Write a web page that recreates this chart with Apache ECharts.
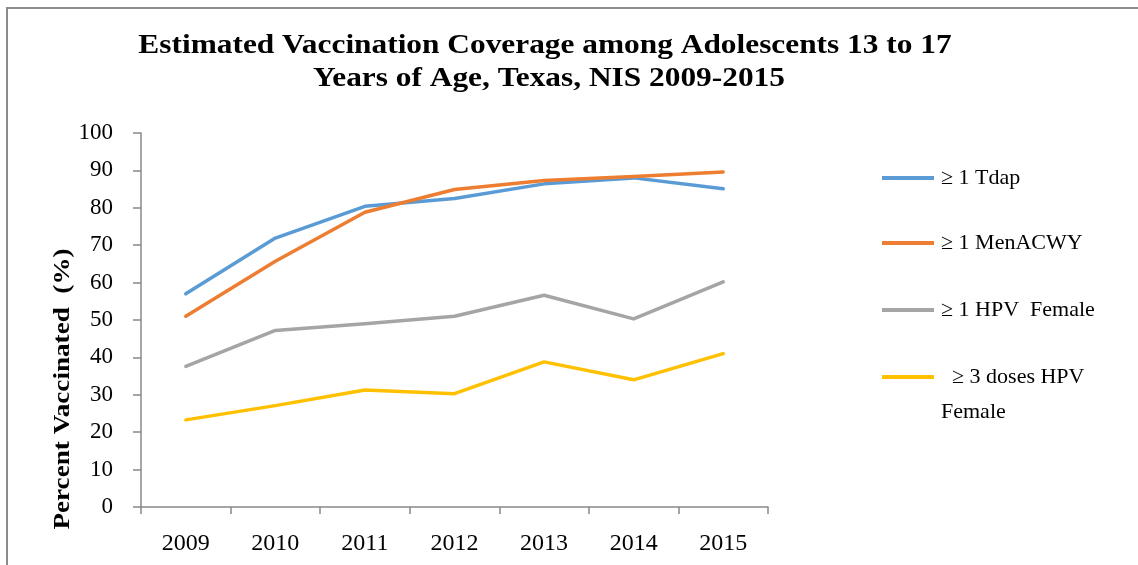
<!DOCTYPE html>
<html>
<head>
<meta charset="utf-8">
<script src="https://cdn.jsdelivr.net/npm/echarts@6/dist/echarts.min.js"></script>
<style>
html,body{margin:0;padding:0;background:#fff;}
#chart{width:1138px;height:565px;}
</style>
</head>
<body>
<div id="chart"></div>
<script>
var years = ['2009','2010','2011','2012','2013','2014','2015'];
var tdap = [57.0, 71.9, 80.4, 82.5, 86.4, 88.0, 85.1];
var menacwy = [51.0, 65.7, 78.8, 84.9, 87.3, 88.4, 89.6];
var hpv1 = [37.6, 47.2, 49.0, 51.0, 56.6, 50.3, 60.2];
var hpv3 = [23.3, 27.1, 31.3, 30.3, 38.8, 34.0, 41.0];
var seriesNames = ['\u2265 1 Tdap', '\u2265 1 MenACWY', '\u2265 1 HPV  Female', '\u2265 3 doses HPV Female'];
var titleLines = ['Estimated Vaccination Coverage among Adolescents 13 to 17', 'Years of Age, Texas, NIS 2009-2015'];
var yAxisTitle = 'Percent Vaccinated  (%)';
var colors = ['#5B9BD5', '#ED7D31', '#A5A5A5', '#FFC000'];

var serif = '"Liberation Serif", "Times New Roman", serif';
var chart = echarts.init(document.getElementById('chart'));
var values = [tdap, menacwy, hpv1, hpv3];
var legendCenters = [178, 243, 310, 377];
var LH = 35;

var option = {
  backgroundColor: '#fff',
  animation: false,
  legend: seriesNames.map(function(n, i){
    return {
      data: [n],
      left: 882,
      top: legendCenters[i] - (i === 3 ? LH * 1.5 : LH / 2),
      orient: 'vertical',
      itemWidth: 52,
      itemHeight: 20,
      itemGap: 0,
      padding: 0,
      icon: 'path://M0,0 L52,0 L52,4 L0,4 Z',
      formatter: function(name){
        if (i === 3) return ' \n  \u2265 3 doses HPV\nFemale';
        return name;
      },
      textStyle: {fontFamily: serif, fontSize: 22, color: '#000', lineHeight: LH, padding: [0,0,0,2]}
    };
  }),
  grid: {left: 141, right: 370, top: 133, bottom: 58, containLabel: false},
  xAxis: {
    type: 'category',
    data: years,
    boundaryGap: true,
    axisLine: {lineStyle: {color: '#888', width: 1.5}},
    axisTick: {show: true, length: 7, lineStyle: {color: '#888', width: 1.5}},
    axisLabel: {fontFamily: serif, fontSize: 24, color: '#000', margin: 25}
  },
  yAxis: {
    type: 'value',
    min: 0, max: 100, interval: 10,
    axisLine: {show: true, lineStyle: {color: '#888', width: 1.5}},
    axisTick: {show: true, length: 8, lineStyle: {color: '#888', width: 1.5}},
    splitLine: {show: false},
    axisLabel: {fontFamily: serif, fontSize: 23, color: '#000', margin: 28}
  },
  graphic: [
    {
      type: 'rect', silent: true,
      shape: {x: 7, y: 8, width: 1400, height: 800},
      style: {fill: 'none', stroke: '#8c8c8c', lineWidth: 2}
    },
    {
      type: 'text', silent: true,
      x: 545, y: 46, scaleX: 1.12,
      style: {text: titleLines[0], fontFamily: serif, fontWeight: 'bold', fontSize: 28,
              fill: '#000', align: 'center', verticalAlign: 'middle'}
    },
    {
      type: 'text', silent: true,
      x: 549, y: 79, scaleX: 1.12,
      style: {text: titleLines[1], fontFamily: serif, fontWeight: 'bold', fontSize: 28,
              fill: '#000', align: 'center', verticalAlign: 'middle'}
    },
    {
      type: 'text', silent: true,
      x: 63, y: 389, rotation: Math.PI / 2, scaleX: 1.18,
      style: {text: yAxisTitle, fontFamily: serif, fontWeight: 'bold', fontSize: 23,
              fill: '#000', align: 'center', verticalAlign: 'middle'}
    }
  ],
  series: seriesNames.map(function(n, i){
    return {
      name: n,
      type: 'line',
      data: values[i],
      showSymbol: false,
      symbol: 'none',
      smooth: false,
      lineStyle: {color: colors[i], width: 3.5, cap: 'round', join: 'round'},
      itemStyle: {color: colors[i]}
    };
  })
};
chart.setOption(option);
</script>
</body>
</html>
